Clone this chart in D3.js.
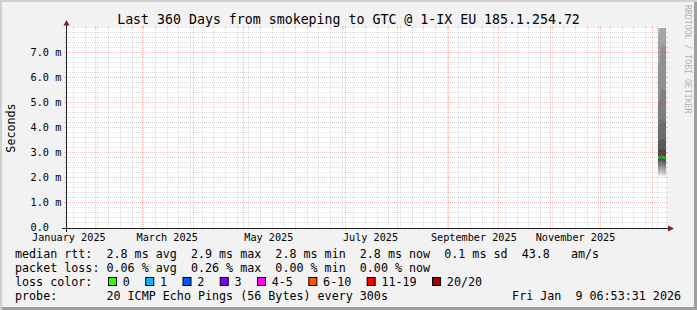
<!DOCTYPE html>
<html><head><meta charset="utf-8">
<script src="https://cdn.jsdelivr.net/npm/d3@7"></script>
<style>
html,body{margin:0;padding:0;background:#f2f2f2;}
svg{display:block;}
text{font-family:"DejaVu Sans Mono",monospace;white-space:pre;}
</style></head><body>
<svg id="chart" width="697" height="310"></svg>
<script>
// ---------------- data ----------------
const chartTitle = "Last 360 Days from smokeping to GTC @ 1-IX EU 185.1.254.72";
const yAxisTitle = "Seconds";
const watermark = "RRDTOOL / TOBI OETIKER";
const endTime = "2026-01-09T06:53:31Z";
const rangeDays = 360;
const yMaxMs = 8;

const yTickValues = [0, 1, 2, 3, 4, 5, 6, 7];                 // ms
const yTickLabels = ["0.0  ", "1.0 m", "2.0 m", "3.0 m", "4.0 m", "5.0 m", "6.0 m", "7.0 m"];

const xTickMonths = ["2025-01-01", "2025-03-01", "2025-05-01", "2025-07-01", "2025-09-01", "2025-11-01"];
const xTickLabels = ["January 2025", "March 2025", "May 2025", "July 2025", "September 2025", "November 2025"];

// 12-hour consolidated samples (only the last days hold data)
const sampleTimes = [
  "2026-01-04T12:00:00Z", "2026-01-05T00:00:00Z", "2026-01-05T12:00:00Z", "2026-01-06T00:00:00Z",
  "2026-01-06T12:00:00Z", "2026-01-07T00:00:00Z", "2026-01-07T12:00:00Z", "2026-01-08T00:00:00Z",
  "2026-01-08T12:00:00Z", "2026-01-09T00:00:00Z"
];
// median rtt per sample (ms)
const medianRtt = [2.84, 2.80, 2.86, 2.82, 2.90, 2.80, 2.84, 2.78, 2.82, 2.86];
// lost pings per sample (of 20)
const lossCount = [0, 0, 0.05, 0.05, 0, 0, 0, 0, 0, 0];
// 20 sorted ping times per sample (ms)
const pingTimes = [
  [2.10, 2.18, 2.26, 2.34, 2.42, 2.50, 2.58, 2.66, 2.74, 2.82, 2.88, 3.10, 3.50, 4.20, 5.00, 6.40, 7.60, 9.0, 12.0, 20.0],
  [2.06, 2.14, 2.22, 2.30, 2.38, 2.46, 2.56, 2.64, 2.72, 2.78, 2.84, 3.06, 3.44, 4.10, 5.10, 6.60, 7.80, 9.4, 13.0, 22.0],
  [2.12, 2.20, 2.28, 2.36, 2.44, 2.52, 2.60, 2.68, 2.76, 2.84, 2.90, 3.14, 3.56, 4.30, 5.30, 6.90, 7.90, 9.8, 14.0, 24.0],
  [2.08, 2.16, 2.24, 2.32, 2.40, 2.48, 2.56, 2.64, 2.72, 2.80, 2.86, 3.12, 3.52, 4.32, 5.52, 7.32, 9.60, 12.4, 17.0, 28.0],
  [2.14, 2.22, 2.30, 2.38, 2.46, 2.54, 2.62, 2.70, 2.80, 2.88, 2.94, 3.20, 3.60, 4.40, 5.60, 7.40, 9.80, 12.8, 18.0, 30.0],
  [2.06, 2.14, 2.22, 2.30, 2.38, 2.46, 2.54, 2.62, 2.72, 2.78, 2.84, 3.10, 3.50, 4.28, 5.48, 7.20, 9.40, 12.0, 16.0, 26.0],
  [2.10, 2.18, 2.26, 2.34, 2.42, 2.50, 2.58, 2.66, 2.74, 2.82, 2.88, 3.14, 3.54, 4.34, 5.56, 7.36, 9.70, 12.6, 17.5, 29.0],
  [2.04, 2.12, 2.20, 2.28, 2.36, 2.44, 2.52, 2.60, 2.70, 2.76, 2.82, 3.08, 3.48, 4.24, 5.44, 7.24, 9.50, 12.2, 16.5, 27.0],
  [2.08, 2.16, 2.24, 2.32, 2.40, 2.48, 2.56, 2.64, 2.72, 2.80, 2.86, 3.12, 3.52, 4.30, 5.50, 7.30, 9.60, 12.4, 17.0, 28.0],
  [2.10, 2.18, 2.26, 2.34, 2.42, 2.50, 2.58, 2.66, 2.76, 2.84, 2.90, 3.16, 3.56, 4.36, 5.58, 7.38, 9.80, 12.8, 18.0, 30.0]
];

const legendLines = [
  "median rtt:  2.8 ms avg  2.9 ms max  2.8 ms min  2.8 ms now  0.1 ms sd  43.8   am/s",
  "packet loss: 0.06 % avg  0.26 % max  0.00 % min  0.00 % now"
];
const lossLegendTitle = "loss color:";
const lossLabels = ["0", "1", "2", "3", "4-5", "6-10", "11-19", "20/20"];
const lossUpper  = [0, 1, 2, 3, 5, 10, 19, 20];
const lossColors = ["#26ff00", "#00b8ff", "#0059ff", "#7e00ff", "#ff00ff", "#ff5500", "#ff0000", "#a10000"];
const probeLabel = "probe:       20 ICMP Echo Pings (56 Bytes) every 300s";
const stampLabel = "Fri Jan  9 06:53:31 2026";

// ---------------- layout ----------------
const W = 697, H = 310;
const P = {left: 66, right: 666, top: 28, bottom: 228};
const FONT_AXIS = "10.2px", FONT_LEG = "11.7px", FONT_TITLE = "13.25px";

const svg = d3.select("#chart");
const end = new Date(endTime);
const start = new Date(end.getTime() - rangeDays * 864e5);
const x = d3.scaleUtc().domain([start, end]).range([P.left, P.right]);
const y = d3.scaleLinear().domain([0, yMaxMs]).range([P.bottom, P.top]);

// background + 3d frame
svg.append("rect").attr("width", W).attr("height", H).attr("fill", "#f2f2f2");
svg.append("rect").attr("x", 0).attr("y", 0).attr("width", W).attr("height", 2).attr("fill", "#cfcfcf");
svg.append("rect").attr("x", 0).attr("y", 0).attr("width", 2).attr("height", H).attr("fill", "#cfcfcf");
svg.append("rect").attr("x", 2).attr("y", H - 3).attr("width", W - 2).attr("height", 3).attr("fill", "#9e9e9e");
svg.append("rect").attr("x", W - 3).attr("y", 2).attr("width", 3).attr("height", H - 2).attr("fill", "#9e9e9e");

// canvas
svg.append("rect").attr("x", P.left).attr("y", P.top).attr("width", P.right - P.left)
  .attr("height", P.bottom - P.top).attr("fill", "#ffffff");

svg.append("clipPath").attr("id", "plotclip").append("rect")
  .attr("x", P.left).attr("y", P.top).attr("width", P.right - P.left).attr("height", P.bottom - P.top);

// ---------------- smoke ----------------
const samples = sampleTimes.map((t, i) => ({t: new Date(t), p: pingTimes[i], m: medianRtt[i], l: lossCount[i]}));
const stepRows = samples.concat([{...samples[samples.length - 1], t: end}]);
const gData = svg.append("g").attr("clip-path", "url(#plotclip)");
const n = 20, half = n / 2;
for (let ibot = 1; ibot <= half; ibot++) {
  const itop = n + 1 - ibot;
  const c = Math.floor(190 / half * (half - ibot)) + 50;
  const col = d3.rgb(c, c, c).formatHex();
  const area = d3.area().curve(d3.curveStepAfter)
    .x(d => x(d.t)).y0(d => y(d.p[ibot - 1])).y1(d => y(d.p[itop - 1]));
  gData.append("path").datum(stepRows).attr("d", area).attr("fill", col);
}
// median band coloured by loss
const swidth = yMaxMs / (P.bottom - P.top);
function lossIndex(l) {
  for (let k = 0; k < lossUpper.length; k++) if (l <= lossUpper[k]) return k;
  return lossUpper.length - 1;
}
samples.forEach((s, i) => {
  const t1 = i < samples.length - 1 ? samples[i + 1].t : end;
  const x0 = x(s.t), x1 = x(t1);
  gData.append("rect").attr("x", x0).attr("width", x1 - x0)
    .attr("y", y(s.m + swidth)).attr("height", y(s.m - swidth) - y(s.m + swidth))
    .attr("fill", lossColors[lossIndex(s.l)]);
});

// ---------------- grid ----------------
const GRID = "rgba(143,143,143,0.75)", MGRID = "rgba(222,79,79,0.6)";
const gGrid = svg.append("g");
function hLine(yy, color, w) {
  const yp = Math.round(yy) - 0.5;
  gGrid.append("line").attr("x1", P.left - 2).attr("x2", P.left).attr("y1", yp).attr("y2", yp)
    .attr("stroke", color).attr("stroke-width", w);
  gGrid.append("line").attr("x1", P.right).attr("x2", P.right + 2).attr("y1", yp).attr("y2", yp)
    .attr("stroke", color).attr("stroke-width", w);
  gGrid.append("line").attr("x1", P.left).attr("x2", P.right).attr("y1", yp).attr("y2", yp)
    .attr("stroke", color).attr("stroke-width", w).attr("stroke-dasharray", "1,1");
}
function vLine(xx, color, w) {
  const xp = Math.floor(xx) + 0.5;
  gGrid.append("line").attr("x1", xp).attr("x2", xp).attr("y1", P.bottom).attr("y2", P.bottom + 2)
    .attr("stroke", color).attr("stroke-width", w);
  gGrid.append("line").attr("x1", xp).attr("x2", xp).attr("y1", P.top - 2).attr("y2", P.top)
    .attr("stroke", color).attr("stroke-width", w);
  gGrid.append("line").attr("x1", xp).attr("x2", xp).attr("y1", P.top).attr("y2", P.bottom)
    .attr("stroke", color).attr("stroke-width", w).attr("stroke-dasharray", "1,1");
}
// minor horizontal every 0.2 ms
y.ticks(40).forEach(v => {
  if (Math.abs(v - Math.round(v)) < 1e-9) return;
  hLine(y(v), GRID, 0.4);
});
// minor vertical every week (Sunday)
const months = d3.utcMonth.range(start, end);
const monthSet = new Set(months.map(d => +d));
d3.utcSunday.range(start, end).forEach(d => {
  if (monthSet.has(+d)) return;
  vLine(x(d), GRID, 0.4);
});
// major
yTickValues.forEach(v => { if (v > 0) hLine(y(v), MGRID, 0.6); });
months.forEach(d => vLine(x(d), MGRID, 0.6));

// ---------------- axes ----------------
const AX = "#1f1f1f", ARROW = "#801f1f";
svg.append("line").attr("x1", P.left - 4).attr("x2", P.right + 4).attr("y1", P.bottom + 0.5).attr("y2", P.bottom + 0.5)
  .attr("stroke", AX).attr("stroke-width", 1);
svg.append("line").attr("x1", P.left + 0.5).attr("x2", P.left + 0.5).attr("y1", P.bottom + 4).attr("y2", P.top - 4)
  .attr("stroke", AX).attr("stroke-width", 1);
svg.append("path").attr("d", `M${P.right + 2},${P.bottom - 2.5}L${P.right + 2},${P.bottom + 3.5}L${P.right + 8},${P.bottom + 0.5}Z`)
  .attr("fill", ARROW);
svg.append("path").attr("d", `M${P.left - 2.5},${P.top - 2.5}L${P.left + 3.5},${P.top - 2.5}L${P.left + 0.5},${P.top - 8}Z`)
  .attr("fill", ARROW);

// y labels
yTickValues.forEach((v, i) => {
  svg.append("text").attr("x", 30.6).attr("y", Math.round(y(v)) - 0.5 + 3.8)
    .attr("font-size", FONT_AXIS).attr("fill", "#000").text(yTickLabels[i]);
});
// x labels (centered at month start + 15 days)
xTickMonths.forEach((m, i) => {
  const t = new Date(new Date(m + "T00:00:00Z").getTime() + 15 * 864e5);
  if (t < start || t > end) return;
  svg.append("text").attr("x", x(t)).attr("y", 241).attr("text-anchor", "middle")
    .attr("font-size", FONT_AXIS).attr("fill", "#000").text(xTickLabels[i]);
});

// titles
svg.append("text").attr("x", W / 2).attr("y", 23.5).attr("text-anchor", "middle")
  .attr("font-size", FONT_TITLE).attr("fill", "#000").text(chartTitle);
svg.append("text").attr("transform", `translate(15,${(P.top + P.bottom) / 2}) rotate(-90)`)
  .attr("text-anchor", "middle").attr("font-size", FONT_LEG).attr("fill", "#000").text(yAxisTitle);
svg.append("text").attr("transform", "translate(685,5) rotate(90)")
  .attr("font-size", "8.2px").attr("fill", "rgba(0,0,0,0.3)").text(watermark);

// ---------------- legend ----------------
const legX = 15;
const legY = [257.5, 271.8, 286, 300.2];
legendLines.forEach((s, i) => {
  svg.append("text").attr("x", legX).attr("y", legY[i]).attr("font-size", FONT_LEG).attr("fill", "#000").text(s);
});
svg.append("text").attr("x", legX).attr("y", legY[2]).attr("font-size", FONT_LEG).attr("fill", "#000").text(lossLegendTitle);
let bx = 108;
lossLabels.forEach((lab, i) => {
  svg.append("rect").attr("x", bx + 0.5).attr("y", 277.5).attr("width", 8).attr("height", 8)
    .attr("fill", lossColors[i]).attr("stroke", "#000").attr("stroke-width", 1);
  const tx = bx + 14.8;
  const t = svg.append("text").attr("x", tx).attr("y", legY[2]).attr("font-size", FONT_LEG).attr("fill", "#000").text(lab);
  const len = t.node().getComputedTextLength();
  bx = tx + len + 15.4;
});
svg.append("text").attr("x", legX).attr("y", legY[3]).attr("font-size", FONT_LEG).attr("fill", "#000").text(probeLabel);
svg.append("text").attr("x", 681).attr("y", legY[3]).attr("text-anchor", "end").attr("font-size", FONT_LEG).attr("fill", "#000").text(stampLabel);
</script>
</body></html>
